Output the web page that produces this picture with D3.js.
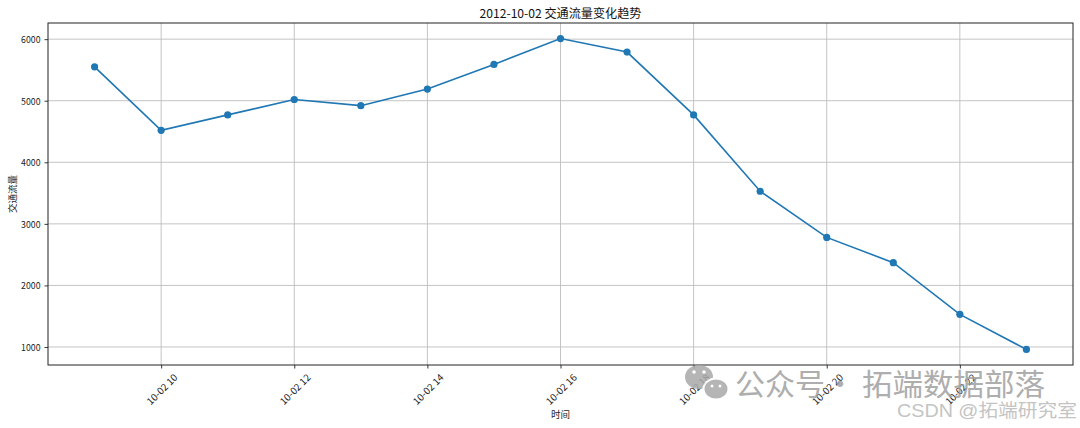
<!DOCTYPE html>
<html>
<head>
<meta charset="utf-8">
<script src="https://cdn.jsdelivr.net/npm/d3@7"></script>
<style>
  html, body { margin: 0; padding: 0; background: #fff; }
  svg { display: block; }
</style>
</head>
<body>
<svg id="chart" width="1080" height="428"></svg>
<script>
// ---- data ----
const hours = [9, 10, 11, 12, 13, 14, 15, 16, 17, 18, 19, 20, 21, 22, 23];
const flow = [5550, 4520, 4770, 5020, 4920, 5190, 5590, 6010, 5790, 4770, 3530, 2780, 2370, 1530, 960];
const xTickHours = [10, 12, 14, 16, 18, 20, 22];
const xTickLabels = ["10-02 10", "10-02 12", "10-02 14", "10-02 16", "10-02 18", "10-02 20", "10-02 22"];
const yTicks = [1000, 2000, 3000, 4000, 5000, 6000];
const titleText = "2012-10-02 交通流量变化趋势";
const xLabel = "时间";
const yLabel = "交通流量";

// ---- layout ----
const W = 1080, H = 428;
const margin = { left: 48, right: 7, top: 23, bottom: 63 };
const FONT = "'Noto Sans CJK SC', 'Noto Sans', sans-serif";

// SimHei-like metrics: half-width latin, full-width CJK
function hwWidth(str, size) {
  let w = 0;
  for (const ch of str) w += (ch.codePointAt(0) > 0x2E80) ? size : size * 0.5;
  return w;
}

const svg = d3.select("#chart");

const xSpan = d3.max(hours) - d3.min(hours);
const x = d3.scaleLinear()
  .domain([d3.min(hours) - xSpan * 0.05, d3.max(hours) + xSpan * 0.05])
  .range([margin.left, W - margin.right]);

const ySpan = d3.max(flow) - d3.min(flow);
const y = d3.scaleLinear()
  .domain([d3.min(flow) - ySpan * 0.05, d3.max(flow) + ySpan * 0.05])
  .range([H - margin.bottom, margin.top]);

const plotL = margin.left, plotR = W - margin.right, plotT = margin.top, plotB = H - margin.bottom;

// grid
const grid = svg.append("g");
grid.selectAll("line.gx").data(xTickHours).join("line")
  .attr("x1", d => x(d)).attr("x2", d => x(d))
  .attr("y1", plotT).attr("y2", plotB)
  .attr("stroke", "#bdbdbd").attr("stroke-width", 0.9);
grid.selectAll("line.gy").data(yTicks).join("line")
  .attr("x1", plotL).attr("x2", plotR)
  .attr("y1", d => y(d)).attr("y2", d => y(d))
  .attr("stroke", "#bdbdbd").attr("stroke-width", 0.9);

// axes (ticks + labels)
const tickSize = 9.7;
const yAxis = d3.axisLeft(y).tickValues(yTicks).tickSize(3.5).tickPadding(4).tickFormat(d3.format("d"));
const gy = svg.append("g").attr("transform", `translate(${plotL},0)`).call(yAxis);
gy.select(".domain").remove();
gy.selectAll(".tick line").attr("stroke", "#222").attr("stroke-width", 0.9);
gy.selectAll(".tick text")
  .attr("font-family", FONT).attr("font-size", tickSize).attr("fill", "#222")
  .attr("dy", "0.35em")
  .each(function(d) {
    const t = d3.select(this);
    t.attr("textLength", hwWidth(t.text(), tickSize)).attr("lengthAdjust", "spacingAndGlyphs");
  });

const xAxis = d3.axisBottom(x).tickValues(xTickHours).tickSize(3.5)
  .tickFormat((d, i) => xTickLabels[i]);
const gx = svg.append("g").attr("transform", `translate(0,${plotB})`).call(xAxis);
gx.select(".domain").remove();
gx.selectAll(".tick line").attr("stroke", "#222").attr("stroke-width", 0.9);
gx.selectAll(".tick text")
  .attr("font-family", FONT).attr("font-size", tickSize).attr("fill", "#222")
  .attr("y", 0).attr("dy", 0)
  .attr("text-anchor", "middle")
  .attr("dominant-baseline", "central")
  .attr("transform", "translate(0,24) rotate(-45)")
  .each(function(d) {
    const t = d3.select(this);
    t.attr("textLength", hwWidth(t.text(), tickSize)).attr("lengthAdjust", "spacingAndGlyphs");
  });

// frame
svg.append("rect")
  .attr("x", plotL).attr("y", plotT)
  .attr("width", plotR - plotL).attr("height", plotB - plotT)
  .attr("fill", "none").attr("stroke", "#222").attr("stroke-width", 1);

// line
const line = d3.line().x((d, i) => x(hours[i])).y(d => y(d));
svg.append("path").datum(flow)
  .attr("d", line)
  .attr("fill", "none").attr("stroke", "#1f77b4").attr("stroke-width", 1.6);

svg.selectAll("circle.pt").data(flow).join("circle")
  .attr("class", "pt")
  .attr("cx", (d, i) => x(hours[i])).attr("cy", d => y(d))
  .attr("r", 3.6).attr("fill", "#1f77b4");

// title
const titleSize = 12;
svg.append("text")
  .attr("x", (plotL + plotR) / 2).attr("y", 18)
  .attr("text-anchor", "middle")
  .attr("font-family", FONT).attr("font-size", titleSize).attr("fill", "#111")
  .attr("textLength", hwWidth(titleText, titleSize)).attr("lengthAdjust", "spacingAndGlyphs")
  .text(titleText);

// axis labels
const labSize = 9.5;
svg.append("text")
  .attr("x", (plotL + plotR) / 2).attr("y", 414)
  .attr("text-anchor", "middle").attr("dominant-baseline", "central")
  .attr("font-family", FONT).attr("font-size", labSize).attr("fill", "#222")
  .text(xLabel);

svg.append("text")
  .attr("transform", `translate(12,${(plotT + plotB) / 2}) rotate(-90)`)
  .attr("text-anchor", "middle").attr("dominant-baseline", "central")
  .attr("font-family", FONT).attr("font-size", labSize).attr("fill", "#222")
  .text(yLabel);

// watermark
const wm = svg.append("g").attr("opacity", 0.85);
wm.append("ellipse").attr("cx", 699).attr("cy", 377).attr("rx", 14).attr("ry", 12).attr("fill", "#a9a9a9");
wm.append("ellipse").attr("cx", 716).attr("cy", 389).attr("rx", 12.5).attr("ry", 10.5)
  .attr("fill", "#a9a9a9").attr("stroke", "#fff").attr("stroke-width", 2);
wm.append("circle").attr("cx", 694).attr("cy", 372).attr("r", 1.8).attr("fill", "#fff");
wm.append("circle").attr("cx", 704).attr("cy", 372).attr("r", 1.8).attr("fill", "#fff");
wm.append("circle").attr("cx", 712).attr("cy", 386).attr("r", 1.5).attr("fill", "#fff");
wm.append("circle").attr("cx", 720).attr("cy", 386).attr("r", 1.5).attr("fill", "#fff");
wm.append("text").attr("x", 735).attr("y", 395)
  .attr("font-family", FONT).attr("font-size", 30).attr("fill", "#a0a0a0")
  .text("公众号·");
wm.append("text").attr("x", 862).attr("y", 395)
  .attr("font-family", FONT).attr("font-size", 30).attr("fill", "#a0a0a0")
  .attr("textLength", 183).attr("lengthAdjust", "spacingAndGlyphs")
  .text("拓端数据部落");
svg.append("text").attr("x", 897).attr("y", 417)
  .attr("font-family", "'Liberation Sans', 'Noto Sans CJK SC', sans-serif").attr("font-size", 18).attr("fill", "#c4c4c4")
  .attr("textLength", 180).attr("lengthAdjust", "spacingAndGlyphs")
  .text("CSDN @拓端研究室");
</script>
</body>
</html>
